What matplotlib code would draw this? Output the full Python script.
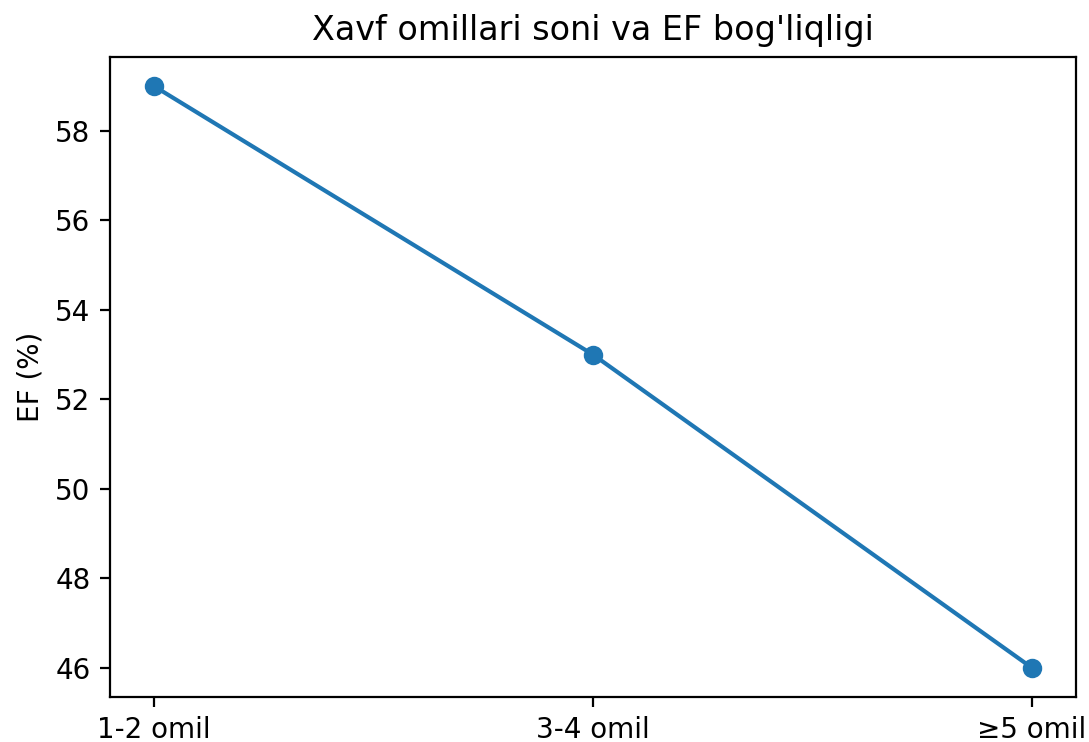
import matplotlib
matplotlib.use('Agg')
import matplotlib.pyplot as plt

groups = ['1-2 omil', '3-4 omil', '≥5 omil']
ef_values = [59, 53, 46]

fig = plt.figure(figsize=(1089 / 200, 742 / 200), dpi=200)
ax = fig.add_axes([110 / 1089, 1 - 697 / 742, (1076 - 110) / 1089, (697 - 57) / 742])
ax.plot(groups, ef_values, marker='o', color='#1f77b4')
ax.set_title("Xavf omillari soni va EF bog'liqligi")
ax.set_ylabel('EF (%)')
fig.savefig('out.png', dpi=200)
